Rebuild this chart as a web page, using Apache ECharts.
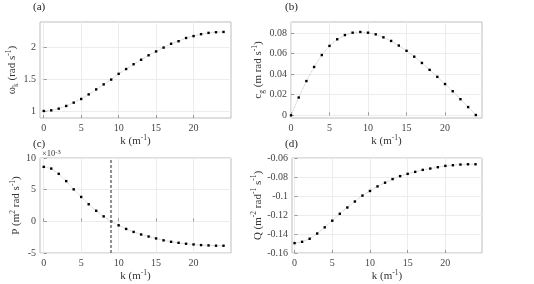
<!DOCTYPE html>
<html><head><meta charset="utf-8">
<script src="https://cdn.jsdelivr.net/npm/echarts@6/dist/echarts.min.js"></script>
<style>html,body{margin:0;padding:0;background:#fff}#c{width:534px;height:284px}</style>
</head><body><div id="c"></div>
<script>
const k = [0,1,2,3,4,5,6,7,8,9,10,11,12,13,14,15,16,17,18,19,20,21,22,23,24];
const omega = [1.00,1.01,1.036,1.078,1.13,1.187,1.259,1.337,1.415,1.49,1.58,1.655,1.73,1.80,1.87,1.93,1.99,2.05,2.09,2.14,2.17,2.20,2.22,2.23,2.235];
const cg = [0,0.0173,0.0333,0.047,0.0586,0.0675,0.0739,0.078,0.0803,0.081,0.0803,0.0787,0.0758,0.0723,0.0678,0.0627,0.057,0.0509,0.0442,0.0374,0.0304,0.0234,0.0157,0.008,0.0003];
const P_e3 = [8.6,8.33,7.5,6.35,5.05,3.85,2.7,1.67,0.78,0,-0.63,-1.2,-1.67,-2.08,-2.4,-2.7,-3.0,-3.23,-3.39,-3.54,-3.65,-3.75,-3.8,-3.85,-3.85];
const Q = [-0.1496,-0.1482,-0.145,-0.1395,-0.133,-0.126,-0.1187,-0.1121,-0.1058,-0.0996,-0.0947,-0.0899,-0.086,-0.0822,-0.0791,-0.0767,-0.0746,-0.0725,-0.0711,-0.0697,-0.0683,-0.0676,-0.0669,-0.0666,-0.0666];
const xTicks = [0,5,10,15,20];
const yTicksA = [1,1.5,2];
const yTicksB = [0,0.02,0.04,0.06,0.08];
const yTicksC = [-5,0,5,10];
const yTicksD = [-0.16,-0.14,-0.12,-0.1,-0.08,-0.06];
const kMark = 9;

const FF = '"Liberation Serif", "Times New Roman", serif';
const rich = {
  n: {fontFamily: FF, fontSize: 11, color: '#333', lineHeight: 15},
  sup: {fontFamily: FF, fontSize: 7.5, color: '#333', verticalAlign: 'top', lineHeight: 15},
  sub: {fontFamily: FF, fontSize: 7.5, color: '#333', verticalAlign: 'bottom', lineHeight: 15}
};
const grids = [
  {left: 40, top: 22, width: 191, height: 96},
  {left: 291, top: 22, width: 191, height: 96},
  {left: 40, top: 158, width: 191, height: 95},
  {left: 292, top: 158, width: 190, height: 95}
].map(g => Object.assign(g, {show: true, borderColor: '#bdbdbd', borderWidth: 1, backgroundColor: '#fff'}));

function xAx(i, min, max) {
  return {type: 'value', gridIndex: i, min: min, max: max,
    name: '{n|k (m}{sup|-1}{n|)}', nameLocation: 'middle', nameGap: 15,
    nameTextStyle: {rich: rich},
    axisLine: {show: false},
    axisTick: {show: true, inside: true, length: 3, customValues: xTicks, lineStyle: {color: '#999'}},
    axisLabel: {customValues: xTicks, fontFamily: FF, fontSize: 10, color: '#444', margin: 5},
    splitLine: {show: true, lineStyle: {color: '#ececec', width: 1}}};
}
function yAx(i, min, max, ticks, name, gap) {
  return {type: 'value', gridIndex: i, min: min, max: max,
    name: name, nameLocation: 'middle', nameGap: gap, nameRotate: 90,
    nameTextStyle: {rich: rich},
    axisLine: {show: false},
    axisTick: {show: true, inside: true, length: 3, customValues: ticks, lineStyle: {color: '#999'}},
    axisLabel: {customValues: ticks, fontFamily: FF, fontSize: 10, color: '#444', margin: 4},
    splitLine: {show: true, lineStyle: {color: '#ececec', width: 1}}};
}
function ser(i, arr, extra) {
  return Object.assign({type: 'line', xAxisIndex: i, yAxisIndex: i,
    data: k.map((x, j) => [x, arr[j]]),
    symbol: 'rect', symbolSize: 2.4, showSymbol: true,
    itemStyle: {color: '#000'},
    lineStyle: {color: '#b0b0b0', width: 0.8, type: 'dotted'}}, extra || {});
}
const chart = echarts.init(document.getElementById('c'), null, {renderer: 'canvas'});
chart.setOption({
  animation: false,
  backgroundColor: '#fff',
  grid: grids,
  xAxis: [xAx(0, -0.5, 25), xAx(1, 0, 24.8), xAx(2, -0.5, 25), xAx(3, -0.34, 24.86)],
  yAxis: [
    yAx(0, 0.89, 2.39, yTicksA, '{n|ω}{sub|k}{n| (rad s}{sup|-1}{n|)}', 15),
    yAx(1, -0.0026, 0.0907, yTicksB, '{n|c}{sub|g}{n| (m rad s}{sup|-1}{n|)}', 24),
    yAx(2, -5, 10, yTicksC, '{n|P (m}{sup|2}{n| rad s}{sup|-1}{n|)}', 16),
    yAx(3, -0.16, -0.06, yTicksD, '{n|Q (m}{sup|-2}{n| rad}{sup|-1}{n| s}{sup|-1}{n|)}', 19)
  ],
  series: [
    ser(0, omega),
    ser(1, cg),
    ser(2, P_e3, {markLine: {silent: true, symbol: 'none', label: {show: false},
      lineStyle: {color: '#777', width: 1.6, type: [3, 2]}, data: [{xAxis: kMark}]}}),
    ser(3, Q)
  ],
  graphic: [
    {type: 'text', left: 33, top: 2, style: {text: '(a)', font: '11px "Liberation Serif"', fill: '#222'}},
    {type: 'text', left: 285, top: 2, style: {text: '(b)', font: '11px "Liberation Serif"', fill: '#222'}},
    {type: 'text', left: 33, top: 139, style: {text: '(c)', font: '11px "Liberation Serif"', fill: '#222'}},
    {type: 'text', left: 285, top: 139, style: {text: '(d)', font: '11px "Liberation Serif"', fill: '#222'}},
    {type: 'text', left: 42, top: 149, style: {text: '×10{s|-3}', font: '8.5px "Liberation Serif"', fill: '#333',
      rich: {s: {fontSize: 6.5, fontFamily: FF, fill: '#333', verticalAlign: 'top'}}}}
  ]
});
</script></body></html>
